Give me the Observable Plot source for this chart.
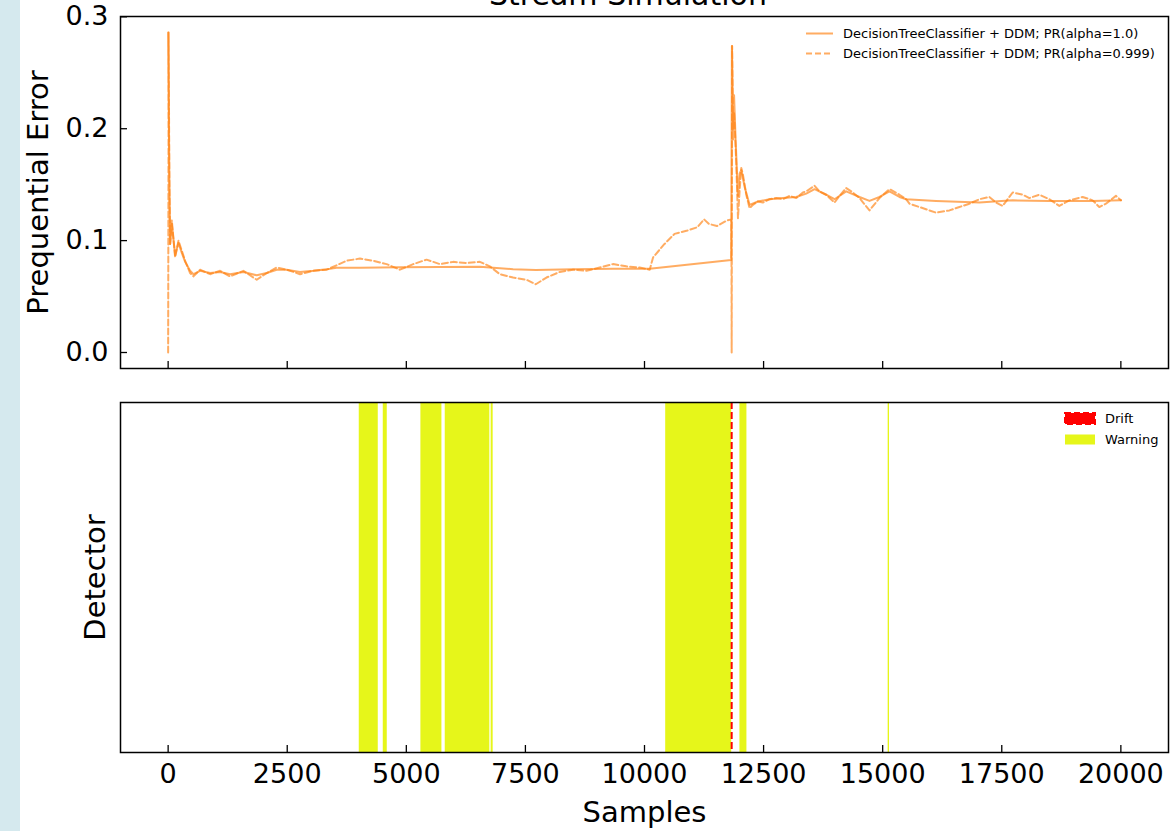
<!DOCTYPE html>
<html><head><meta charset="utf-8">
<script src="https://cdn.jsdelivr.net/npm/d3@7"></script>
<script src="https://cdn.jsdelivr.net/npm/@observablehq/plot@0.6"></script>
<style>
html,body{margin:0;padding:0;background:#fff;}
body{width:1172px;height:831px;position:relative;overflow:hidden;font-family:"DejaVu Sans",sans-serif;}
#strip{position:absolute;left:0;top:0;width:20px;height:831px;background:#d5e9ee;}
#title{position:absolute;left:0;width:1256px;text-align:center;top:-20px;font-size:30px;line-height:30px;color:#000;}
#topchart{position:absolute;left:0;top:0;}
#botchart{position:absolute;left:0;top:385px;}
.leg{position:absolute;font-size:13px;line-height:15px;color:#000;white-space:nowrap;}
.row{position:absolute;left:0;display:flex;align-items:center;height:15px;}
</style></head><body>
<div id="strip"></div>
<div id="topchart"></div>
<div id="botchart"></div>
<div id="title">Stream Simulation</div>
<div class="leg" id="leg1" style="left:805px;top:26px;width:362px;height:42px;"></div>
<div class="leg" id="leg2" style="left:1064px;top:411px;width:104px;height:42px;"></div>
<script>
// ---- data ----
const seriesNames = ["DecisionTreeClassifier + DDM; PR(alpha=1.0)", "DecisionTreeClassifier + DDM; PR(alpha=0.999)"];

const samples1 = [0,25,42,77,147,217,287,357,461,531,671,881,1091,1300,1580,1860,2069,2279,2489,2768,3048,3328,3537,4027,4866,5705,6544,7242,7718,8501,9340,10109,11820,11835,11860,11880,11913,11962,11997,12032,12102,12206,12381,12626,12905,13185,13395,13570,13814,13989,14234,14514,14723,14933,15143,15352,15492,16121,17030,17729,18498,19407,20002];
const error1 = [0.286,0.160,0.097,0.115,0.087,0.098,0.089,0.081,0.073,0.070,0.073,0.071,0.072,0.070,0.072,0.069,0.071,0.074,0.074,0.072,0.073,0.0743,0.0758,0.0758,0.0762,0.0764,0.0766,0.0745,0.0737,0.0745,0.0749,0.0749,0.0827,0.274,0.200,0.230,0.190,0.140,0.160,0.163,0.148,0.132,0.135,0.137,0.138,0.139,0.142,0.146,0.141,0.137,0.144,0.139,0.1355,0.139,0.144,0.139,0.137,0.1355,0.134,0.136,0.1355,0.1355,0.136];

const samples999 = [0,12,25,42,77,147,217,287,357,461,531,671,881,1091,1300,1580,1860,2069,2279,2489,2768,3048,3328,3537,3747,4027,4306,4586,4866,5145,5425,5705,5984,6264,6544,6753,6963,7242,7522,7718,7942,8221,8501,8781,9060,9340,9620,9899,10109,10180,10420,10630,10900,11110,11250,11350,11520,11730,11825,11830,11840,11860,11880,11913,11927,11962,11997,12032,12066,12102,12137,12206,12276,12381,12486,12626,12766,12905,13045,13185,13325,13395,13570,13675,13814,13989,14094,14234,14374,14514,14723,14933,15143,15352,15492,15562,15772,16121,16401,16611,16820,17030,17240,17380,17519,17729,17939,18079,18289,18498,18708,18918,19198,19407,19547,19687,19897,20002];
const error999 = [0,0.286,0.150,0.097,0.118,0.085,0.100,0.091,0.082,0.071,0.068,0.074,0.070,0.073,0.068,0.073,0.065,0.071,0.076,0.074,0.070,0.073,0.074,0.078,0.082,0.084,0.082,0.079,0.074,0.079,0.083,0.079,0.081,0.080,0.081,0.077,0.070,0.067,0.065,0.061,0.067,0.072,0.074,0.073,0.076,0.079,0.077,0.076,0.074,0.085,0.097,0.106,0.109,0.112,0.119,0.115,0.113,0.118,0.119,0,0.274,0.190,0.215,0.183,0.168,0.120,0.145,0.165,0.159,0.150,0.141,0.129,0.132,0.135,0.134,0.137,0.138,0.137,0.140,0.138,0.143,0.144,0.149,0.144,0.141,0.134,0.140,0.147,0.143,0.138,0.127,0.138,0.146,0.141,0.137,0.133,0.130,0.125,0.127,0.130,0.133,0.137,0.139,0.134,0.131,0.143,0.141,0.138,0.141,0.137,0.131,0.136,0.139,0.136,0.130,0.133,0.140,0.136];

const warnStart = [4012, 4516, 5306, 5817, 6781, 10445, 12003, 15115];
const warnEnd   = [4411, 4600, 5747, 6753, 6823, 11830, 12150, 15143];
const driftAt = [11830];

const xTicks = [0, 2500, 5000, 7500, 10000, 12500, 15000, 17500, 20000];
const yTicks = [0.0, 0.1, 0.2, 0.3];
const legendDetector = ["Drift", "Warning"];

// ---- styling ----
const orange = "#ff7f0e";
const yellow = "#e6f61a";
const xDomain = [-1000, 21000];

const d1 = samples1.map((x, i) => ({x, y: error1[i]}));
const d999 = samples999.map((x, i) => ({x, y: error999[i]}));
const warnings = warnStart.map((s, i) => ({start: s, end: warnEnd[i]}));

const topPlot = Plot.plot({
  width: 1172, height: 385,
  marginLeft: 120, marginRight: 4, marginTop: 16, marginBottom: 17,
  style: {fontFamily: "DejaVu Sans", fontSize: "27px", color: "black", background: "transparent", overflow: "visible"},
  x: {domain: xDomain, axis: null},
  y: {domain: [-0.0143, 0.3003], axis: null},
  marks: [
    Plot.line(d1, {x: "x", y: "y", stroke: orange, strokeOpacity: 0.65, strokeWidth: 2}),
    Plot.line(d999, {x: "x", y: "y", stroke: orange, strokeOpacity: 0.65, strokeWidth: 2, strokeDasharray: "6,3"}),
    Plot.axisY(yTicks, {tickSize: -7, tickPadding: 19, tickFormat: d3.format(".1f"), label: null, strokeWidth: 1.3}),
    Plot.axisX(xTicks, {tickSize: -7, tickFormat: () => "", label: null, strokeWidth: 1.3}),
    Plot.frame({stroke: "black", strokeWidth: 1.5}),
    Plot.text(["Prequential Error"], {text: d => d, frameAnchor: "left", dx: -82, rotate: -90, textAnchor: "middle", lineAnchor: "middle", fontSize: 29})
  ]
});
document.getElementById("topchart").append(topPlot);

const botPlot = Plot.plot({
  width: 1172, height: 446,
  marginLeft: 120, marginRight: 4, marginTop: 17, marginBottom: 79,
  style: {fontFamily: "DejaVu Sans", fontSize: "27px", color: "black", background: "transparent", overflow: "visible"},
  x: {domain: xDomain, axis: null},
  y: {domain: [0, 1], axis: null},
  marks: [
    Plot.rect(warnings, {x1: "start", x2: "end", y1: 0, y2: 1, fill: yellow}),
    Plot.ruleX(driftAt, {stroke: "red", strokeWidth: 2, strokeDasharray: "7,3"}),
    Plot.axisX(xTicks, {tickSize: -7, tickPadding: 18, tickFormat: d3.format("d"), label: null, strokeWidth: 1.3}),
    Plot.frame({stroke: "black", strokeWidth: 1.5}),
    Plot.text(["Detector"], {text: d => d, frameAnchor: "left", dx: -25, rotate: -90, textAnchor: "middle", lineAnchor: "middle", fontSize: 29}),
    Plot.text(["Samples"], {text: d => d, frameAnchor: "bottom", dy: 60, textAnchor: "middle", lineAnchor: "middle", fontSize: 29})
  ]
});
document.getElementById("botchart").append(botPlot);

// ---- legends ----
const leg1 = document.getElementById("leg1");
seriesNames.forEach((name, i) => {
  const row = document.createElement("div");
  row.className = "row";
  row.style.top = (i * 20) + "px";
  row.innerHTML = `<svg width="38" height="15"><line x1="1" x2="28" y1="7.5" y2="7.5" stroke="${orange}" stroke-opacity="0.65" stroke-width="2" ${i === 1 ? 'stroke-dasharray="6,3"' : ''}/></svg><span>${name}</span>`;
  leg1.append(row);
});
const leg2 = document.getElementById("leg2");
legendDetector.forEach((name, i) => {
  const row = document.createElement("div");
  row.className = "row";
  row.style.top = (i * 21) + "px";
  const sw = i === 0
    ? `<rect x="1" y="2" width="30" height="11" fill="red" stroke="red" stroke-width="2" stroke-dasharray="6,3"/>`
    : `<rect x="1" y="2.5" width="30" height="10" fill="${yellow}"/>`;
  row.innerHTML = `<svg width="41" height="15">${sw}</svg><span>${name}</span>`;
  leg2.append(row);
});
</script>
</body></html>
